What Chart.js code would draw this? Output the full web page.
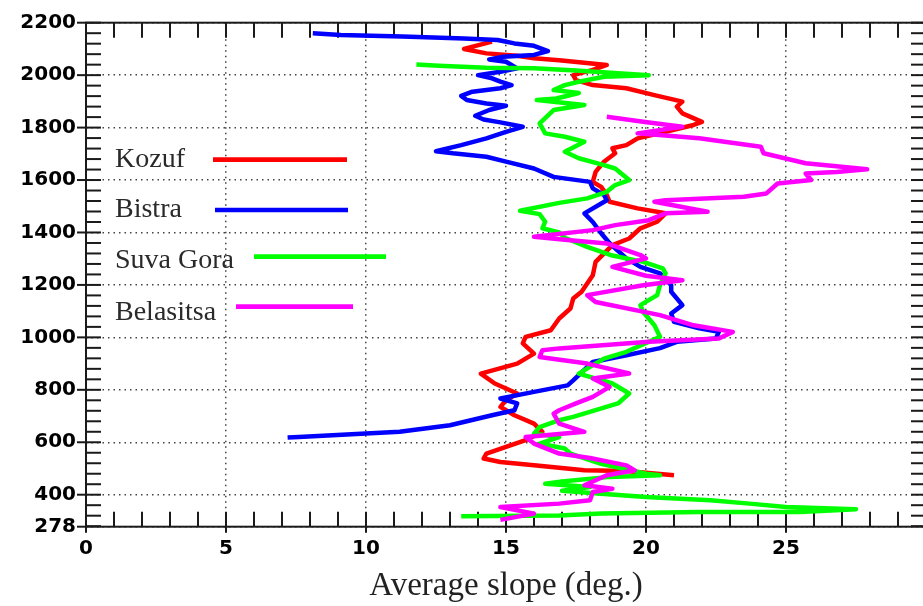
<!DOCTYPE html>
<html><head><meta charset="utf-8">
<script src="https://cdn.jsdelivr.net/npm/chart.js@4.4.1/dist/chart.umd.min.js"></script>
<style>html,body{margin:0;padding:0;background:#fff;overflow:hidden;width:923px;height:606px;}canvas{display:block;}</style>
</head><body>
<canvas id="c" width="930" height="606" style="width:930px;height:606px"></canvas>
<script>
// ---- data (slope in degrees, altitude in m) ----
const seriesNames = ['Kozuf', 'Bistra', 'Suva Gora', 'Belasitsa'];
const seriesColors = ['#ff0000', '#0000ff', '#00ff00', '#ff00ff'];
const xTickValues = [0, 5, 10, 15, 20, 25];
const yTickValues = [278, 400, 600, 800, 1000, 1200, 1400, 1600, 1800, 2000, 2200];
const xAxisTitle = 'Average slope (deg.)';

const kozuf = [[14.5,2128],[13.5,2100],[14.3,2083],[15.4,2074],[16.0,2064],[16.9,2057],[18.6,2039],[18.1,2020],[17.4,2000],[17.5,1981],[18.1,1962],[19.3,1950],[20.3,1924],[21.3,1899],[21.1,1880],[21.3,1854],[22.0,1822],[21.7,1810],[20.7,1784],[19.7,1759],[19.3,1733],[18.8,1721],[18.9,1702],[18.5,1670],[18.2,1631],[18.1,1593],[18.4,1574],[18.6,1543],[18.7,1517],[19.7,1492],[20.7,1473],[20.4,1441],[19.8,1416],[19.4,1377],[18.8,1352],[18.2,1288],[18.1,1237],[17.7,1174],[17.4,1148],[17.3,1110],[16.9,1072],[16.6,1027],[15.7,1002],[15.6,977],[16.0,938],[15.4,900],[14.1,862],[14.6,824],[15.4,786],[15.0,760],[14.8,735],[15.3,703],[16.0,671],[16.3,640],[15.7,608],[15.0,582],[14.3,557],[14.2,538],[14.8,525],[16.0,512],[17.8,493],[19.3,490],[21.0,474]];

const bistra = [[8.1,2160],[9.1,2153],[11.3,2147],[13.5,2140],[14.7,2134],[15.3,2121],[16.0,2112],[16.5,2092],[16.0,2077],[14.9,2070],[14.4,2060],[15.0,2051],[15.4,2026],[14.8,2013],[14.0,2000],[14.5,1988],[14.8,1975],[15.2,1962],[14.8,1950],[13.8,1937],[13.4,1921],[13.6,1905],[14.3,1892],[15.0,1883],[14.4,1867],[13.9,1845],[14.2,1831],[14.8,1820],[15.6,1803],[15.0,1784],[14.3,1759],[13.4,1733],[12.5,1710],[13.1,1702],[14.3,1689],[15.0,1670],[16.0,1644],[16.7,1612],[18.0,1593],[18.1,1568],[18.5,1543],[18.6,1523],[17.8,1473],[18.1,1440],[18.4,1397],[18.7,1359],[19.3,1301],[19.8,1269],[20.5,1244],[20.9,1199],[20.9,1174],[21.3,1123],[20.9,1091],[21.0,1059],[21.9,1035],[22.6,1021],[22.5,996],[21.1,983],[20.5,959],[19.3,932],[18.1,906],[17.9,887],[17.4,836],[17.2,817],[16.0,792],[14.8,767],[15.4,748],[15.3,722],[14.5,703],[13.0,665],[11.2,640],[8.8,627],[7.6,620],[7.2,618]];

const suvaGora = [[11.8,2041],[12.6,2036],[14.3,2028],[16.0,2026],[17.5,2018],[20.1,2000],[18.5,1994],[17.6,1975],[17.1,1962],[16.7,1943],[17.6,1932],[16.8,1911],[16.1,1905],[17.8,1886],[16.7,1867],[16.2,1816],[16.4,1778],[17.1,1765],[17.8,1746],[17.1,1708],[17.6,1683],[18.5,1657],[18.9,1644],[19.4,1600],[18.9,1581],[18.6,1555],[17.9,1530],[16.9,1513],[15.5,1483],[16.2,1470],[16.4,1441],[16.3,1416],[16.9,1400],[17.1,1380],[17.9,1345],[18.8,1312],[19.9,1288],[20.6,1263],[20.7,1244],[20.5,1199],[20.4,1161],[19.8,1123],[19.9,1097],[20.3,1046],[20.5,1002],[19.3,945],[18.5,919],[18.1,894],[17.6,862],[18.8,824],[19.4,786],[19.0,748],[17.4,697],[16.9,684],[16.2,658],[16.0,633],[16.9,620],[16.2,595],[17.1,576],[17.3,557],[18.4,518],[20.0,480],[20.5,474],[18.7,468],[17.0,450],[16.4,442],[18.0,429],[17.0,415],[18.4,404],[20.0,391],[22.3,379],[23.7,366],[25.0,353],[27.5,345],[25.5,334],[21.9,334],[18.4,328],[16.9,321],[13.4,318]];

const belasitsa = [[18.6,1841],[19.9,1822],[21.3,1803],[19.7,1778],[21.9,1759],[24.1,1727],[24.2,1702],[25.7,1664],[27.9,1641],[26.8,1631],[25.7,1625],[25.9,1600],[24.7,1587],[24.3,1549],[23.5,1536],[20.7,1523],[20.3,1517],[22.2,1479],[20.7,1473],[20.1,1447],[18.9,1428],[18.1,1409],[16.0,1384],[17.2,1371],[18.6,1358],[19.8,1314],[20.0,1301],[18.8,1269],[20.0,1235],[21.3,1218],[19.9,1199],[17.9,1161],[18.2,1135],[20.5,1085],[21.7,1046],[23.1,1021],[22.6,996],[20.1,983],[16.9,958],[16.3,951],[16.2,925],[17.9,900],[19.4,862],[18.1,843],[18.7,811],[18.1,773],[17.5,748],[16.9,722],[16.7,709],[16.9,671],[17.8,640],[15.7,620],[16.0,595],[16.9,557],[18.0,540],[19.3,512],[19.6,493],[18.6,474],[17.8,436],[18.8,423],[18.1,410],[18.0,379],[16.9,366],[14.8,353],[16.0,328],[14.8,304]];

const allSeries = [kozuf, bistra, suvaGora, belasitsa];

// ---- drawing helpers (layout / style only) ----
const frameTicks = {
  id: 'frameTicks',
  beforeDatasetsDraw(chart, args, opts) {
    const {ctx, chartArea: {left, right, top, bottom}, scales: {x, y}} = chart;
    ctx.save();
    ctx.strokeStyle = '#1a1a1a';
    ctx.lineWidth = 2;
    const seg = (x1, y1, x2, y2) => { ctx.beginPath(); ctx.moveTo(x1, y1); ctx.lineTo(x2, y2); ctx.stroke(); };
    for (let v = x.min; v <= x.max; v += opts.xMinorStep) {
      const px = x.getPixelForValue(v);
      seg(px, top, px, top + opts.inLen);
      seg(px, bottom, px, bottom - opts.inLen);
    }
    xTickValues.forEach(v => { const px = x.getPixelForValue(v); seg(px, bottom, px, bottom + opts.xOutLen); });
    for (let v = opts.yMinorStart; v <= y.max; v += opts.yMinorStep) {
      const py = y.getPixelForValue(v);
      seg(left, py, left + opts.inLen, py);
      seg(right, py, right - opts.inLen, py);
    }
    yTickValues.forEach(v => { const py = y.getPixelForValue(v); seg(left - opts.yOutLen, py, left, py); });
    ctx.strokeRect(left, top, right - left, bottom - top);
    ctx.restore();
  }
};

const innerLegend = {
  id: 'innerLegend',
  afterDatasetsDraw(chart, args, opts) {
    const {ctx} = chart;
    ctx.save();
    ctx.font = opts.font;
    ctx.fillStyle = opts.textColor;
    ctx.textBaseline = 'alphabetic';
    ctx.textAlign = 'left';
    chart.data.datasets.forEach((ds, i) => {
      const p = opts.items[i];
      ctx.fillText(ds.label, p.tx, p.ty);
      ctx.strokeStyle = ds.borderColor;
      ctx.lineWidth = opts.lineWidth;
      ctx.beginPath(); ctx.moveTo(p.x1, p.ly); ctx.lineTo(p.x2, p.ly); ctx.stroke();
    });
    ctx.restore();
  }
};

const datasets = allSeries.map((s, i) => ({
  label: seriesNames[i],
  data: s.map(([slope, alt]) => ({x: slope, y: alt})),
  borderColor: seriesColors[i],
  backgroundColor: seriesColors[i],
  borderWidth: 4.5,
  pointRadius: 0,
  showLine: true,
  fill: false,
  tension: 0,
  borderJoinStyle: 'round',
  order: allSeries.length - 1 - i
}));

const tickFont = {family: 'DejaVu Sans', weight: 'bold', size: 20};

new Chart(document.getElementById('c'), {
  type: 'scatter',
  data: {datasets},
  options: {
    responsive: false,
    animation: false,
    devicePixelRatio: 1,
    layout: {padding: {top: 22.7, right: 4, bottom: 0, left: 0}},
    plugins: {
      legend: {display: false},
      tooltip: {enabled: false},
      frameTicks: {xMinorStep: 1, yMinorStart: 280, yMinorStep: 40, inLen: 15, xOutLen: 6, yOutLen: 9},
      innerLegend: {
        font: '28px "Liberation Serif"', textColor: '#2a2a2a', lineWidth: 4.7,
        items: [
          {tx: 115, ty: 167, x1: 213, x2: 347, ly: 159.7},
          {tx: 115, ty: 217, x1: 215, x2: 348, ly: 210},
          {tx: 115, ty: 268, x1: 254, x2: 386, ly: 256.7},
          {tx: 115, ty: 320, x1: 236, x2: 353, ly: 306.7}
        ]
      }
    },
    scales: {
      x: {
        type: 'linear', position: 'bottom', min: 0, max: 30,
        afterBuildTicks: s => { s.ticks = xTickValues.map(v => ({value: v})); },
        afterFit: s => { s.height = 79.3; },
        ticks: {autoSkip: false, maxRotation: 0, padding: 10, color: '#000', font: tickFont, callback: v => String(v)},
        grid: {color: '#444', lineWidth: 1.5, drawTicks: false},
        border: {display: false, dash: [1.5, 4]},
        title: {display: true, text: xAxisTitle, color: '#222', font: {family: 'Liberation Serif', size: 33, lineHeight: 1.2}, padding: {top: 0, bottom: 0}}
      },
      y: {
        type: 'linear', position: 'left', min: 278, max: 2200,
        afterBuildTicks: s => { s.ticks = yTickValues.map(v => ({value: v})); },
        afterFit: s => { s.width = 86; },
        ticks: {autoSkip: false, padding: 10, color: '#000', font: tickFont, callback: v => String(v)},
        grid: {color: '#444', lineWidth: 1.5, drawTicks: false},
        border: {display: false, dash: [1.5, 4]}
      }
    }
  },
  plugins: [frameTicks, innerLegend]
});
</script>
</body></html>
